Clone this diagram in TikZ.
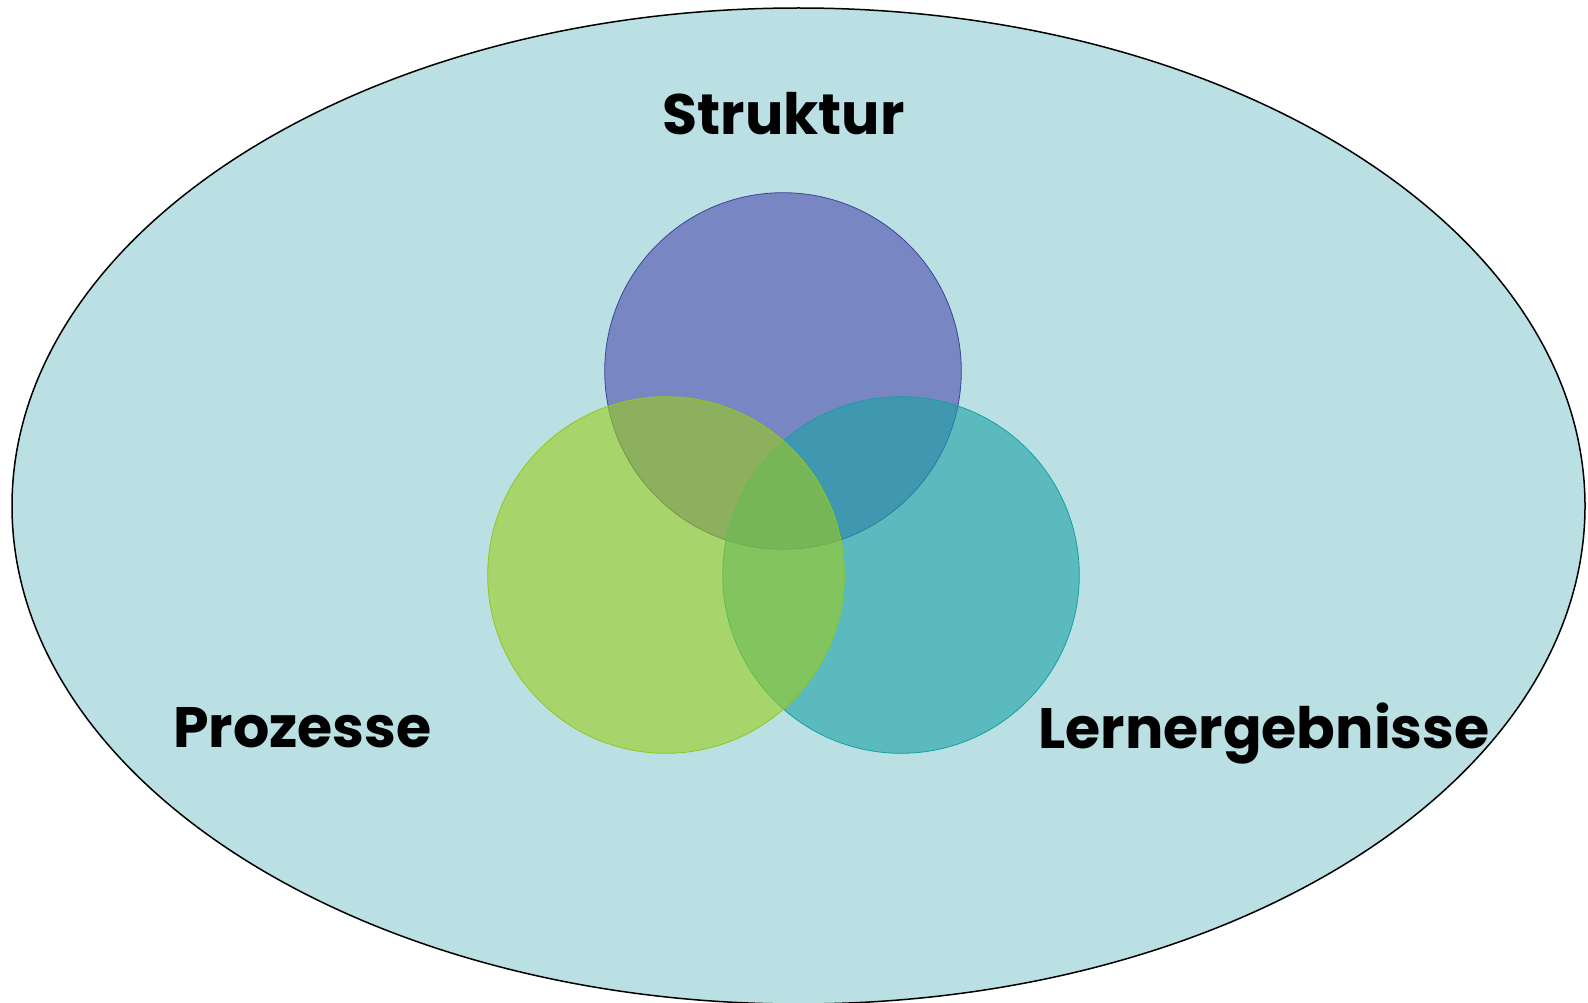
\documentclass[tikz,border=0pt]{standalone}
\usepackage{fontspec}
\setmainfont{Poppins}
\usepackage{tikz}
\usetikzlibrary{positioning}

\definecolor{fieldbg}{RGB}{186,224,227}
\definecolor{strukturfill}{RGB}{76,77,175}
\definecolor{strukturline}{RGB}{60,70,150}
\definecolor{prozessfill}{RGB}{156,204,29}
\definecolor{prozessline}{RGB}{140,200,30}
\definecolor{lernfill}{RGB}{28,162,164}
\definecolor{lernline}{RGB}{20,160,160}

\tikzset{
  ring/.style={circle, minimum size=356.6pt, inner sep=0pt, line width=0.8pt, fill opacity=0.6},
  caption/.style={anchor=base, font=\fontsize{57}{60}\selectfont\bfseries, text=black}
}

\begin{document}
\begin{tikzpicture}[x=1pt,y=-1pt]
        \useasboundingbox (0,0) rectangle (1588,1003);
        \clip (0,0) rectangle (1588,1003);
        \draw[line width=1.5pt, fill=fieldbg] (798.5,506) ellipse [x radius=786.5, y radius=498];
        \node[ring, draw=strukturline, fill=strukturfill] (struktur) at (783,371) {};
        \node[ring, draw=lernline, fill=lernfill] (lern) at (901,575) {};
        \node[ring, draw=prozessline, fill=prozessfill] (prozess) at (666,575) {};
        \node[caption] (strukturtext) at (783.5,135) {Struktur};
        \node[caption] (prozesstext) at (302.5,747) {Prozesse};
        \node[caption] (lerntext) at (1264,748) {Lernergebnisse};
    \end{tikzpicture}
\end{document}
